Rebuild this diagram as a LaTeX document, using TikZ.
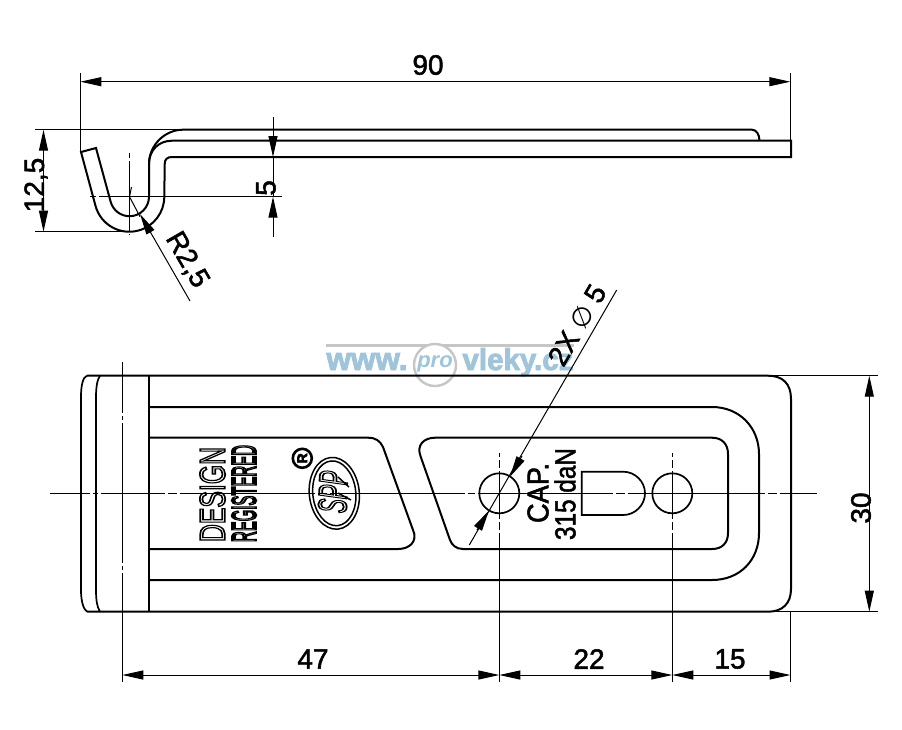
\documentclass[tikz,border=0pt]{standalone}
\usepackage{fontspec}
\usepackage{graphicx}
\usetikzlibrary{arrows.meta}
\setmainfont{Liberation Sans}
\newfontfamily\symfont{DejaVu Sans}
\newcommand{\outl}[2][0.55]{\special{pdf:code q 1 Tr #1 w}#2\special{pdf:code Q}}
\newcommand{\heavy}[2][0.5]{\special{pdf:code q 2 Tr #1 w}#2\special{pdf:code Q}}
\newcommand{\fsz}[1]{\fontsize{#1}{#1}\selectfont}
\definecolor{wmblue}{HTML}{A0C5DB}
\definecolor{wmgrey}{HTML}{C6C6C6}
\tikzset{
  part/.style={line width=2pt,line cap=butt,line join=miter},
  hole/.style={line width=1.7pt},
  dimline/.style={line width=1pt,{Triangle[length=21pt,width=9pt]}-{Triangle[length=21pt,width=9pt]}},
  tipend/.style={line width=1pt,-{Triangle[length=21pt,width=9pt]}},
  extl/.style={line width=1pt},
  dimtext/.style={font=\fsz{28},inner sep=0pt},
}
\begin{document}
\begin{tikzpicture}[x=1pt,y=-1pt]
\useasboundingbox (0,0) rectangle (902,729);
\fill[white] (0,0) rectangle (902,729);

% watermark
\fill[wmgrey] (326,343.5) rectangle (574,346.5);
\node (wa) [text=wmblue,inner sep=0pt,anchor=base] at (367,370) {\resizebox{81pt}{17pt}{\heavy[0.9]{\fsz{32}\bfseries www.}}};
\node (wb) [text=wmblue,inner sep=0pt,anchor=base] at (518,370) {\resizebox{111pt}{22pt}{\heavy[0.9]{\fsz{32}\bfseries vleky.cz}}};
\draw[wmgrey,line width=2.4pt,fill=white] (435,365) circle (21);
\node (wc) [text=wmblue,inner sep=0pt,font=\fsz{22}\bfseries\itshape] at (435,364) {pro};

% side view
\draw[part] (96,148) -- (81,152) -- (95.5,205.8) arc[start angle=165,end angle=0,radius=35] -- (164.7,164) .. controls (164.7,159.5) and (167,157) .. (172,157) -- (791,157) -- (791,140.7) -- (172,140.7)
  .. controls (159,140.7) and (149,150) .. (149,164) -- (149,196.7) arc[start angle=0,end angle=165,radius=19.5] -- cycle;
\draw[part] (149,164) .. controls (149,145) and (165,129.7) .. (183,129.7) -- (752,129.7) .. controls (756,129.7) and (759.5,134) .. (759.5,140.7);

% side view dimensions
\draw[extl] (80.3,73) -- (80.3,152);
\draw[extl] (790.3,73) -- (790.3,140);
\draw[dimline] (80.3,81.7) -- (790.3,81.7);
\node (t90) [dimtext] at (428,65) {\heavy{90}};
\draw[extl] (35,129.7) -- (183,129.7);
\draw[extl] (35,231.7) -- (125,231.7);
\draw[dimline] (43.5,129.7) -- (43.5,231.7);
\node (t125) [dimtext,rotate=90] at (36,185) {\heavy{12,5}};
\draw[extl,dash pattern=on 5pt off 3pt on 70pt off 3pt] (129.3,153) -- (129.3,235);
\draw[extl,dash pattern=on 6pt off 3pt on 200pt off 3pt] (90,196.7) -- (282,196.7);
\coordinate (d5a) at (273,117);
\coordinate (d5b) at (273,157);
\coordinate (d5c) at (273,196.7);
\coordinate (d5d) at (273,236.7);
\draw[tipend] (d5a) -- (d5b);
\draw[extl] (d5b) -- (d5c);
\draw[tipend] (d5d) -- (d5c);
\node (t5) [dimtext,rotate=90] at (266,188) {\heavy{5}};
\draw[extl] (131.5,187) -- (129.5,196.7) -- (140,216.7);
\draw[tipend] (190,301) -- (140,214);
\node (tr) [dimtext,rotate=-60] at (187,260) {\heavy{R2,5}};

% plan view
\draw[part] (87,375.7) -- (768,375.7) .. controls (783,375.7) and (791,384) .. (791,399) -- (791,589)
  .. controls (791,603) and (783,611.7) .. (768,611.7) -- (87,611.7);
\draw[hole] (87,375.7) .. controls (83,377) and (81,385) .. (81,397) -- (81,590) .. controls (81,600) and (83,609) .. (87,611.7);
\draw[hole] (100,375.7) .. controls (97,380) and (96,388) .. (96,397) -- (96,590) .. controls (96,600) and (97,607) .. (100,611.7);
\draw[part] (149,375.7) -- (149,611.7);
\draw[part] (149,407) -- (712,407) .. controls (740,407) and (759,428) .. (759,454) -- (759,533) .. controls (759,560) and (740,580) .. (712,580) -- (149,580);
\draw[part] (149,437.7) -- (368,437.7) .. controls (376,437.7) and (380,441) .. (383,447) -- (413,530) .. controls (418,541) and (410,549) .. (398,549) -- (149,549);
\draw[part] (435,437.7) -- (712,437.7) .. controls (722,437.7) and (728,444) .. (728,454) -- (728,533) .. controls (728,543) and (722,549) .. (712,549) -- (463,549)
  .. controls (456,549) and (452,545) .. (450,540) -- (420.7,456.7) .. controls (416,445) and (424,437.7) .. (435,437.7) -- cycle;
\draw[hole] (499.3,493.3) circle (20);
\draw[hole] (672.3,493.3) circle (20);
\draw[hole] (623.3,471.7) -- (581.7,471.7) -- (581.7,515) -- (623.3,515) .. controls (635,515) and (645,505) .. (645,493.3) .. controls (645,481.5) and (635,471.7) .. (623.3,471.7) -- cycle;

% centre lines
\draw[extl,dash pattern=on 40pt off 3pt on 5pt off 3pt on 64pt off 3pt on 9pt off 3pt on 135pt off 3pt on 9pt off 3pt on 135pt off 3pt on 7pt off 3pt on 135pt off 3pt on 9pt off 3pt on 137pt off 3pt on 9pt off 3pt on 60pt off 10pt] (50,493.3) -- (817,493.3);
\draw[extl,dash pattern=on 51pt off 3pt on 4pt off 3pt on 140pt off 3pt on 4pt off 3pt on 120pt off 10pt] (122.3,362) -- (122.3,682);
\draw[extl,dash pattern=on 4pt off 3pt on 8pt off 3pt on 48pt off 3pt on 8pt off 3pt on 170pt off 10pt] (499.3,453) -- (499.3,682);
\draw[extl,dash pattern=on 4pt off 3pt on 8pt off 3pt on 48pt off 3pt on 8pt off 3pt on 170pt off 10pt] (672.3,453) -- (672.3,682);

% plan dimensions
\draw[extl] (790.5,611.7) -- (790.5,682);
\draw[extl] (768,375.7) -- (878,375.7);
\draw[extl] (768,611.7) -- (878,611.7);
\draw[dimline] (869.3,375.7) -- (869.3,611.7);
\node (t30) [dimtext,rotate=90] at (861,508) {\heavy{30}};
\draw[dimline] (122.3,675) -- (499.3,675);
\draw[dimline] (499.3,675) -- (672.3,675);
\draw[dimline] (672.3,675) -- (790.5,675);
\node (t47) [dimtext] at (313,659) {\heavy{47}};
\node (t22) [dimtext] at (589,659) {\heavy{22}};
\node (t15) [dimtext] at (730,659) {\heavy{15}};

% diameter leader
\draw[extl] (616.7,290) -- (469.3,545);
\coordinate (la) at (522,456);
\coordinate (lb) at (510,476.7);
\coordinate (lc) at (477,530);
\coordinate (ld) at (489,510.5);
\draw[tipend] (la) -- (lb);
\draw[tipend] (lc) -- (ld);
\node (t2x) [dimtext,rotate=60] at (577,325) {\heavy{2X} {\symfont\fsz{26}∅} \heavy{5}};

% engraved text
\node (tcap) [rotate=90,inner sep=0pt] at (538,493) {\resizebox{60pt}{21pt}{\heavy{\fsz{28}CAP.}}};
\node (t315) [rotate=90,inner sep=0pt] at (565,494) {\resizebox{92pt}{21pt}{\heavy{\fsz{28}315 daN}}};
\node (tdes) [rotate=90,inner sep=0pt] at (212.5,494.5) {\resizebox{95pt}{25pt}{\outl[1.4]{\fsz{30}DESIGN}}};
\node (treg) [rotate=90,inner sep=0pt] at (244,493.5) {\resizebox{97pt}{24pt}{\outl[1.9]{\fsz{30}REGISTERED}}};
\node (trm) [draw,line width=2.6pt,circle,inner sep=0pt,minimum size=19pt,rotate=90] at (302.3,458.3) {\heavy[0.6]{\fsz{14}\bfseries R}};

% logo
\begin{scope}[shift={(334.3,493.3)},rotate=6]
\draw[line width=1.5pt] (0,0) ellipse [x radius=25,y radius=36];
\draw[line width=1.5pt] (0,0) ellipse [x radius=21.5,y radius=32.5];
\end{scope}
\node (tspp) [rotate=88,inner sep=0pt] at (333,492) {\resizebox{42pt}{28pt}{\outl[0.9]{\fsz{20}\itshape SPP}}};
\draw[line width=1.5pt] (338,477) -- (349,487);
\draw[line width=1.5pt] (338,493) -- (351,500);
\end{tikzpicture}
\end{document}
